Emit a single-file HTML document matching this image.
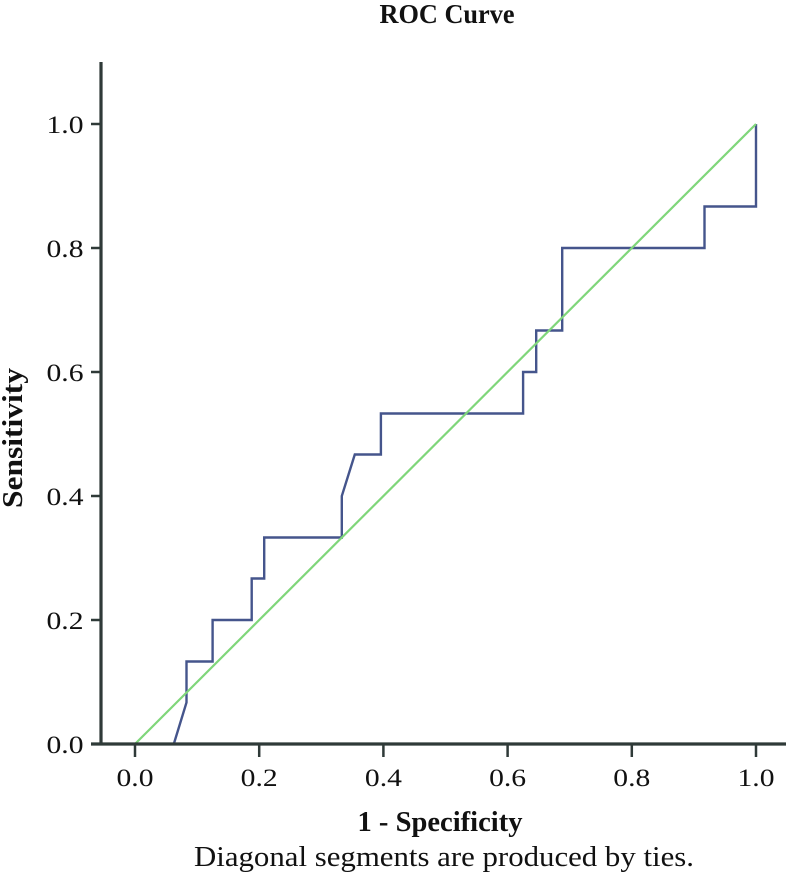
<!DOCTYPE html>
<html lang="en">
<head>
<meta charset="utf-8">
<title>ROC Curve</title>
<style>
html,body{margin:0;padding:0;background:#fff;}
svg{display:block;}
text{font-family:"Liberation Serif",serif;fill:#111;}
</style>
</head>
<body>
<svg id="chart" width="794" height="886" viewBox="0 0 794 886" xmlns="http://www.w3.org/2000/svg">
  <text x="447" y="23" font-size="27" font-weight="bold" text-anchor="middle" textLength="135" lengthAdjust="spacingAndGlyphs">ROC Curve</text>
  <text x="440" y="831" font-size="28" font-weight="bold" text-anchor="middle" textLength="165" lengthAdjust="spacingAndGlyphs">1 - Specificity</text>
  <text x="444" y="866" font-size="28" text-anchor="middle" textLength="500" lengthAdjust="spacingAndGlyphs">Diagonal segments are produced by ties.</text>
  <text transform="translate(22,438) rotate(-90)" font-size="28" font-weight="bold" text-anchor="middle" textLength="140" lengthAdjust="spacingAndGlyphs">Sensitivity</text>
</svg>
<script>
const xTicks = [0.0, 0.2, 0.4, 0.6, 0.8, 1.0];
const yTicks = [0.0, 0.2, 0.4, 0.6, 0.8, 1.0];
const rocFpr = [0, 0.0625, 0.083, 0.083, 0.125, 0.125, 0.188, 0.188, 0.208, 0.208, 0.333, 0.333, 0.354, 0.396, 0.396, 0.625, 0.625, 0.646, 0.646, 0.688, 0.688, 0.917, 0.917, 1, 1];
const rocTpr = [0, 0, 0.067, 0.133, 0.133, 0.2, 0.2, 0.267, 0.267, 0.333, 0.333, 0.4, 0.467, 0.467, 0.533, 0.533, 0.6, 0.6, 0.667, 0.667, 0.8, 0.8, 0.867, 0.867, 1];
const refFpr = [0, 1];
const refTpr = [0, 1];

const NS = 'http://www.w3.org/2000/svg';
const svg = document.getElementById('chart');
const xScale = v => 135 + v * 621;
const yScale = v => 744 - v * 620;

function make(tag, attrs) {
  const el = document.createElementNS(NS, tag);
  for (const k in attrs) el.setAttribute(k, attrs[k]);
  svg.appendChild(el);
  return el;
}
function pointsOf(xs, ys) {
  return xs.map((x, i) => xScale(x).toFixed(1) + ',' + yScale(ys[i]).toFixed(1)).join(' ');
}

const rocLine = make('polyline', {points: pointsOf(rocFpr, rocTpr), fill: 'none', stroke: '#45558c', 'stroke-width': 2.4, 'stroke-linejoin': 'miter'});



const refLine = make('polyline', {points: pointsOf(refFpr, refTpr), fill: 'none', stroke: '#7fd67a', 'stroke-width': 2.2});



const yAxis = make('line', {x1: 101, y1: 62, x2: 101, y2: 745, stroke: '#2f3a38', 'stroke-width': 3.2});



const xAxis = make('line', {x1: 91, y1: 744, x2: 786, y2: 744, stroke: '#2f3a38', 'stroke-width': 3.2});



xTicks.forEach(v => {
  const tick = make('line', {x1: xScale(v), y1: 744, x2: xScale(v), y2: 757, stroke: '#2f3a38', 'stroke-width': 2.5});
  
  
  const label = make('text', {x: xScale(v), y: 786, 'font-size': 25, 'text-anchor': 'middle', textLength: 37, lengthAdjust: 'spacingAndGlyphs'});
  
  
  label.textContent = v.toFixed(1);
});

yTicks.forEach(v => {
  const tick = make('line', {x1: 91, y1: yScale(v), x2: 101, y2: yScale(v), stroke: '#2f3a38', 'stroke-width': 2.5});
  
  
  const label = make('text', {x: 65, y: yScale(v) + 9, 'font-size': 25, 'text-anchor': 'middle', textLength: 37, lengthAdjust: 'spacingAndGlyphs'});
  
  
  label.textContent = v.toFixed(1);
});
</script>
</body>
</html>
